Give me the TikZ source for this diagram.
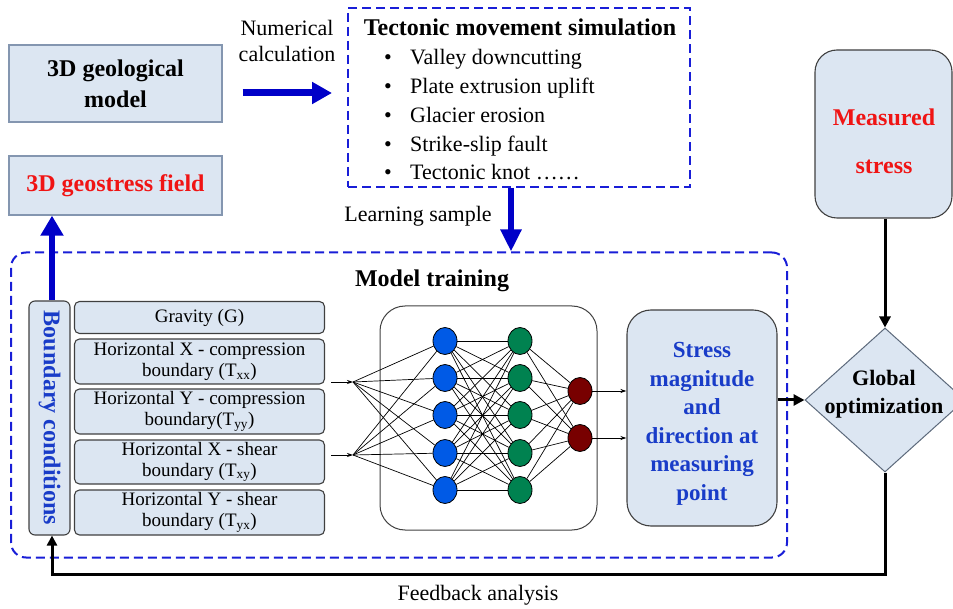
\documentclass[tikz,border=0pt]{standalone}
\usepackage{fontspec}
\setmainfont{Liberation Serif}
\usetikzlibrary{shapes.geometric,arrows.meta,calc}
\definecolor{paleblue}{HTML}{DCE6F2}
\definecolor{boxedge}{HTML}{8496B0}
\definecolor{rimgray}{HTML}{404040}
\definecolor{dashblue}{RGB}{25,30,215}
\definecolor{flowblue}{RGB}{0,0,200}
\definecolor{inkblue}{RGB}{25,60,200}
\definecolor{inkred}{RGB}{240,20,20}
\definecolor{nnblue}{RGB}{0,90,230}
\definecolor{nngreen}{RGB}{0,130,80}
\definecolor{nnred}{RGB}{120,0,0}
\newcommand\fsz[2]{\fontsize{#1}{#2}\selectfont}
\begin{document}
\begin{tikzpicture}[x=1pt,y=-1pt,
  flatbox/.style={draw=boxedge, fill=paleblue, line width=1.3pt, inner sep=0pt, align=center},
  softbox/.style={draw=rimgray, fill=paleblue, line width=1.1pt, inner sep=0pt, align=center},
  dashframe/.style={draw=dashblue, line width=2pt, dash pattern=on 9pt off 5pt},
  fatarrow/.style={draw=flowblue, line width=7pt, -{Triangle[length=20pt,width=21pt]}},
  blackarrow/.style={draw=black, line width=3pt, -{Triangle[length=11pt,width=11pt]}},
  thinarrow/.style={draw=black, line width=0.8pt, -{Stealth[length=6pt,width=4pt]}},
  wire/.style={draw=black, line width=0.7pt},
  neuron/.style={ellipse, draw=black, line width=0.8pt, minimum width=24pt, minimum height=27pt, inner sep=0pt},
  plain/.style={inner sep=0pt, align=center},
  inbox/.style={softbox, minimum width=250pt, font=\fsz{19}{21}}
]
\useasboundingbox (0,0) rectangle (953,609);

% --- top row -------------------------------------------------------------
\node[flatbox, minimum width=213pt, minimum height=77pt, font=\fsz{24}{31}\bfseries]
  (geo) at (115.5,83.5) {3D geological\\model};
\node[flatbox, minimum width=213pt, minimum height=59pt, font=\fsz{24}{29}\bfseries, text=inkred]
  (field) at (115.5,185.5) {3D geostress field};
\node[plain, font=\fsz{22}{26}] (numcalc) at (287,41) {Numerical\\calculation};

\node[dashframe, minimum width=342pt, minimum height=179pt] (tect) at (519,97.5) {};
\node[plain, font=\fsz{24}{28}\bfseries] (tecttitle) at (520,27) {Tectonic movement simulation};
\foreach \k/\yy/\txt in {1/58/Valley downcutting, 2/87/Plate extrusion uplift,
    3/116/Glacier erosion, 4/145/Strike-slip fault, 5/173/Tectonic knot ……}{
  \node[plain, font=\fsz{22}{26}, anchor=base] (dot\k) at (388,\yy+7) {•};
  \node[plain, font=\fsz{22}{26}, anchor=base west] (item\k) at (410,\yy+7) {\txt};
}
\draw[fatarrow, shorten <=20pt, shorten >=15pt] ([yshift=-9.5pt]geo.east) -- ([yshift=-9.5pt]geo.east -| tect.west);

\node[plain, font=\fsz{22}{26}] (learn) at (418,216) {Learning sample};

% --- model training frame -------------------------------------------------
\node[dashframe, rounded corners=15pt, minimum width=776pt, minimum height=305pt] (train) at (399,405) {};
\draw[draw=flowblue, line width=6pt, -{Triangle[length=22pt,width=20pt]}]
  ([xshift=-8pt]tect.south) -- ([xshift=-8pt]tect.south |- train.north);
\node[plain, font=\fsz{24}{28}\bfseries] (traintitle) at (432,281) {Model training};

% boundary conditions column
\node[softbox, rounded corners=6pt, minimum width=41pt, minimum height=234pt] (bc) at (49.5,418) {};
\node[plain, rotate=-90, font=\fsz{24}{28}\bfseries, text=inkblue] (bctext) at (bc.center) {Boundary conditions};
\draw[fatarrow, line width=6pt, -{Triangle[length=20pt,width=22pt]}]
  ([xshift=2.5pt]bc.north) -- ([xshift=2.5pt]bc.north |- field.south);

% input loads
\node[inbox, rounded corners=5pt, minimum height=32pt] (grav) at (199.5,317.5) {Gravity (G)};
\node[inbox, rounded corners=5pt, minimum height=45pt] (hxc) at (199.5,361.5) {Horizontal X - compression\\boundary (T\textsubscript{xx})};
\node[inbox, rounded corners=5pt, minimum height=45pt] (hyc) at (199.5,411.5) {Horizontal Y - compression\\boundary(T\textsubscript{yy})};
\node[inbox, rounded corners=5pt, minimum height=44pt] (hxs) at (199.5,462) {Horizontal X - shear\\boundary (T\textsubscript{xy})};
\node[inbox, rounded corners=5pt, minimum height=45pt] (hys) at (199.5,512.5) {Horizontal Y - shear\\boundary (T\textsubscript{yx})};

% neural network
\node[draw=rimgray, line width=1pt, rounded corners=25pt, minimum width=217pt, minimum height=224pt] (nn) at (488.5,418) {};
\coordinate (f1) at (353,382);
\coordinate (f2) at (353,455);
\foreach \i/\yy in {1/341,2/378,3/415,4/453,5/490}{
  \node[neuron, fill=nnblue] (b\i) at (445,\yy) {};
  \node[neuron, fill=nngreen] (g\i) at (520,\yy) {};
}
\node[neuron, fill=nnred] (r1) at (580,391) {};
\node[neuron, fill=nnred] (r2) at (580,438) {};
\foreach \i in {1,...,5}{
  \draw[wire] (f1) -- (b\i);
  \draw[wire] (f2) -- (b\i);
  \draw[wire] (g\i) -- (r1);
  \draw[wire] (g\i) -- (r2);
  \foreach \j in {1,...,5}{ \draw[wire] (b\i) -- (g\j); }
}
\draw[thinarrow, shorten <=6pt] (hxc.east |- f1) -- (f1);
\draw[thinarrow, shorten <=6pt] (hxs.east |- f2) -- (f2);

% prediction
\node[softbox, rounded corners=24pt, minimum width=150pt, minimum height=216pt] (pred) at (702,418) {};
\node[plain, font=\fsz{23}{28.5}\bfseries, text=inkblue] (predtext) at (702,424)
  {Stress\\magnitude\\and\\direction at\\measuring\\point};
\draw[thinarrow] (r1) -- (r1 -| pred.west);
\draw[thinarrow] (r2) -- (r2 -| pred.west);

% --- right column ---------------------------------------------------------
\node[softbox, rounded corners=22pt, minimum width=137pt, minimum height=168pt] (meas) at (883.5,134) {};
\node[plain, font=\fsz{24}{48}\bfseries, text=inkred] (meastext) at (884,141) {Measured\\stress};
\node[diamond, draw=boxedge!70!black, fill=paleblue, line width=1pt, inner sep=0pt,
  minimum width=160pt, minimum height=144pt] (gopt) at (885,400) {};
\node[plain, font=\fsz{22}{28}\bfseries] (gopttext) at (884,394) {Global\\optimization};

\draw[blackarrow] (gopt.north |- meas.south) -- (gopt.north);
\draw[blackarrow] (pred.east |- gopt.west) -- (gopt.west);

% feedback loop
\coordinate (fbturn) at ([xshift=2.5pt]bc.south |- 0,574);
\draw[draw=black, line width=3pt, -{Triangle[length=10pt,width=10pt]}]
  (gopt.south) |- (fbturn) -- ([xshift=2.5pt]bc.south);
\node[plain, font=\fsz{22}{26}] (fbtext) at (478,595) {Feedback analysis};
\end{tikzpicture}
\end{document}
